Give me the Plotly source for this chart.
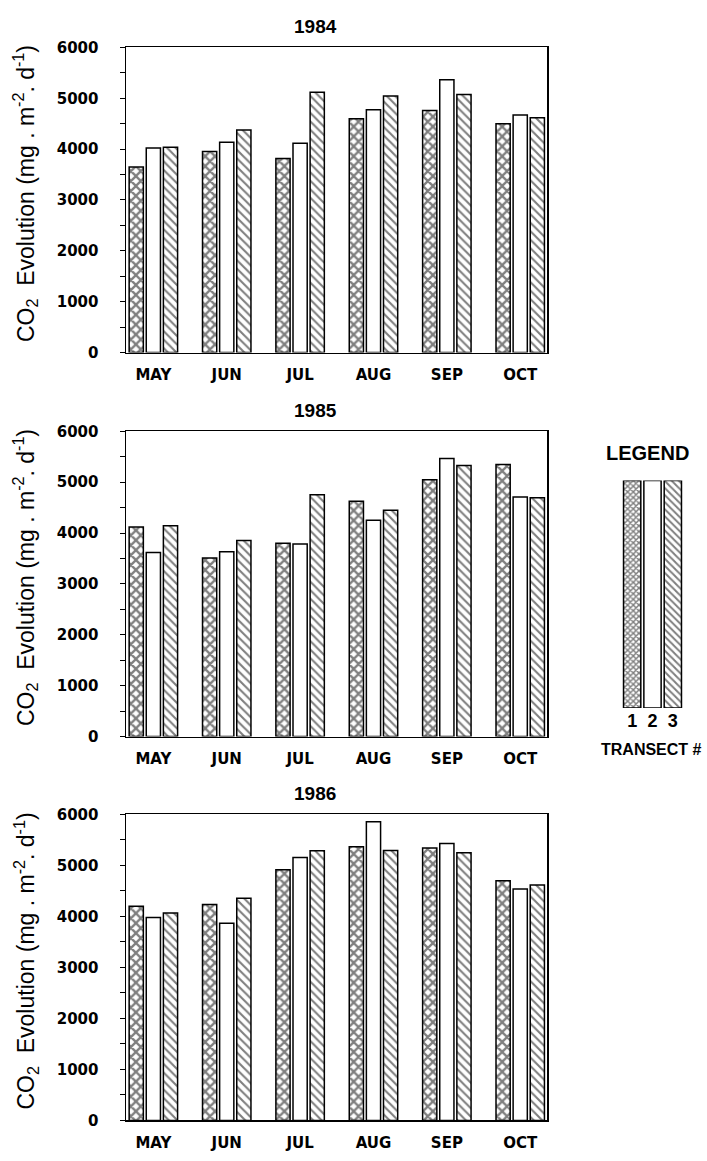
import plotly.graph_objects as go

W, H = 707, 1161

months = ["MAY", "JUN", "JUL", "AUG", "SEP", "OCT"]
years = ["1984", "1985", "1986"]
transects = ["1", "2", "3"]

# CO2 evolution (mg m-2 d-1), by transect
t1_1984 = [3650, 3955, 3815, 4595, 4760, 4500]
t2_1984 = [4020, 4135, 4115, 4775, 5365, 4670]
t3_1984 = [4035, 4375, 5120, 5045, 5075, 4615]

t1_1985 = [4120, 3510, 3800, 4625, 5050, 5350]
t2_1985 = [3620, 3635, 3785, 4250, 5465, 4710]
t3_1985 = [4145, 3855, 4755, 4450, 5330, 4695]

t1_1986 = [4200, 4235, 4915, 5365, 5340, 4700]
t2_1986 = [3980, 3865, 5155, 5855, 5430, 4535]
t3_1986 = [4065, 4355, 5285, 5290, 5245, 4615]

y_ticks = [0, 1000, 2000, 3000, 4000, 5000, 6000]
legend_values = [1, 1, 1]

data = [
    (t1_1984, t2_1984, t3_1984),
    (t1_1985, t2_1985, t3_1985),
    (t1_1986, t2_1986, t3_1986),
]

def px_x(p):
    return p / W

def px_y(p):
    return 1 - p / H

# panel pixel frames (top, bottom)
panels = [(39, 349), (429, 739), (818, 1129)]
x_left, x_right = 126, 547

patterns = [
    dict(shape="x", size=7, solidity=0.55, fgcolor="black", bgcolor="white"),
    dict(shape="", fgcolor="black", bgcolor="white"),
    dict(shape="\\", size=6, solidity=0.35, fgcolor="black", bgcolor="white"),
]

fig = go.Figure()
tick_font = dict(family="DejaVu Sans", size=15, color="black", weight="bold")

annotations = []
for i, (yr, series) in enumerate(zip(years, data)):
    xa = "x" if i == 0 else f"x{i+1}"
    ya = "y" if i == 0 else f"y{i+1}"
    for k, vals in enumerate(series):
        fig.add_trace(go.Bar(
            x=months, y=vals, xaxis=xa, yaxis=ya,
            name=transects[k], showlegend=False,
            marker=dict(color="white", line=dict(color="black", width=1.5),
                        pattern=patterns[k]),
        ))
    top, bot = panels[i]
    suffix = "" if i == 0 else str(i + 1)
    fig.layout["xaxis" + suffix] = dict(
        domain=[px_x(x_left), px_x(x_right)], anchor=ya,
        range=[-0.373, 5.365], showline=True, mirror=True,
        linecolor="black", linewidth=1.5, ticks="", showgrid=False,
        tickfont=tick_font, ticklabelstandoff=8, fixedrange=True,
    )
    fig.layout["yaxis" + suffix] = dict(
        domain=[px_y(bot), px_y(top)], anchor=xa,
        range=[0, 6000], tickvals=y_ticks, showline=True, mirror=True,
        linecolor="black", linewidth=1.5, ticks="outside", ticklen=5,
        tickcolor="black", showgrid=False, zeroline=False,
        minor=dict(dtick=500, ticks="outside", ticklen=5, tickcolor="black"),
        tickfont=tick_font, ticklabelstandoff=18, fixedrange=True,
    )
    annotations.append(dict(
        text=yr, x=px_x(315), y=px_y(top - 21), xref="paper", yref="paper",
        showarrow=False, xanchor="center", yanchor="middle",
        font=dict(family="Liberation Sans", size=19, color="black", weight="bold"),
    ))
    annotations.append(dict(
        text="CO<sub>2</sub>  Evolution (mg . m<sup>-2</sup>. d<sup>-1</sup>)",
        x=px_x(25), y=px_y((top + bot) / 2 - 6), xref="paper", yref="paper",
        showarrow=False, textangle=-90, xanchor="center", yanchor="middle",
        font=dict(family="Liberation Sans", size=23, color="black"),
    ))

# Legend panel drawn as a small bar chart
legend_patterns = [
    dict(shape="x", size=4, solidity=0.6, fgcolor="black", bgcolor="white"),
    dict(shape="", fgcolor="black", bgcolor="white"),
    dict(shape="\\", size=5, solidity=0.4, fgcolor="black", bgcolor="white"),
]
for k in range(3):
    fig.add_trace(go.Bar(
        x=[k], y=[legend_values[k]], xaxis="x4", yaxis="y4",
        showlegend=False, width=0.85,
        marker=dict(color="white", line=dict(color="black", width=1.5),
                    pattern=legend_patterns[k]),
    ))
fig.layout.xaxis4 = dict(
    domain=[px_x(622), px_x(683)], anchor="y4", range=[-0.5, 2.5],
    tickmode="array", tickvals=[0, 1, 2], ticktext=transects,
    showline=False, ticks="", showgrid=False, fixedrange=True, zeroline=False,
    tickfont=dict(family="Liberation Sans", size=18, color="black", weight="bold"),
    ticklabelstandoff=0,
)
fig.layout.yaxis4 = dict(
    domain=[px_y(710), px_y(479)], anchor="x4", range=[0, 1],
    visible=False, fixedrange=True,
)
annotations.append(dict(
    text="LEGEND", x=px_x(647), y=px_y(451), xref="paper", yref="paper",
    showarrow=False, xanchor="center", yanchor="middle",
    font=dict(family="Liberation Sans", size=20, color="black", weight="bold"),
))
annotations.append(dict(
    text="TRANSECT #", x=px_x(651), y=px_y(752), xref="paper", yref="paper",
    showarrow=False, xanchor="center", yanchor="middle",
    font=dict(family="Liberation Sans", size=16, color="black", weight="bold"),
))

fig.update_layout(
    width=W, height=H, margin=dict(l=0, r=0, t=0, b=0),
    paper_bgcolor="white", plot_bgcolor="white",
    barmode="group", bargap=0.30, bargroupgap=0.17,
    annotations=annotations, showlegend=False, hovermode=False,
)

fig.write_html(
    "out.html",
    config={"displayModeBar": False, "staticPlot": True},
    post_script="document.body.style.margin='0';document.body.style.overflow='hidden';",
)
